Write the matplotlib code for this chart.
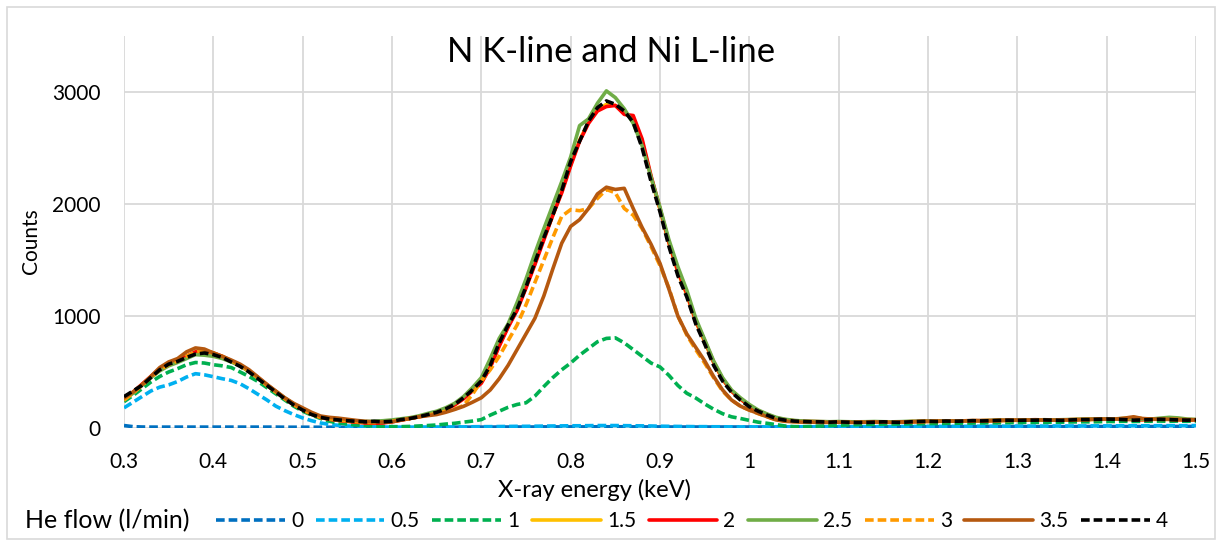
import numpy as np
import matplotlib
matplotlib.use("Agg")
import matplotlib.pyplot as plt
from matplotlib.patches import Rectangle

plt.rcParams['font.family'] = ['Lato', 'DejaVu Sans']

# energy channels, 10 eV apart
energy = np.round(np.arange(0.30, 1.5001, 0.01), 2)

flows = ["0", "0.5", "1", "1.5", "2", "2.5", "3", "3.5", "4"]

he_0 = [22, 12, 9, 8, 8, 8, 8, 8, 8, 8,
        8, 8, 8, 8, 8, 8, 8, 8, 7, 7,
        7, 7, 7, 7, 7, 7, 7, 7, 7, 7,
        7, 7, 7, 7, 8, 8, 8, 8, 8, 8,
        8, 8, 9, 9, 9, 9, 9, 10, 10, 10,
        10, 10, 10, 11, 11, 11, 11, 10, 10, 10,
        10, 9, 9, 9, 9, 9, 9, 9, 9, 9,
        9, 9, 9, 9, 9, 10, 10, 10, 10, 10,
        10, 10, 10, 10, 10, 10, 11, 11, 11, 11,
        11, 11, 11, 11, 11, 11, 12, 12, 12, 12,
        12, 12, 12, 12, 12, 12, 12, 13, 13, 13,
        13, 13, 13, 13, 13, 13, 13, 14, 14, 14,
        14]

he_05 = [180, 230, 280, 330, 365, 385, 415, 455, 485, 475,
         458, 440, 425, 395, 350, 300, 250, 195, 155, 120,
         90, 65, 45, 32, 24, 18, 14, 11, 10, 9,
         8, 8, 8, 8, 9, 9, 9, 10, 10, 11,
         12, 12, 13, 14, 15, 15, 16, 17, 18, 19,
         20, 20, 21, 22, 22, 22, 21, 20, 19, 18,
         16, 15, 14, 13, 12, 12, 11, 11, 10, 10,
         10, 10, 10, 11, 10, 11, 11, 11, 12, 11,
         12, 12, 12, 13, 12, 13, 13, 13, 14, 14,
         14, 14, 15, 15, 15, 15, 16, 16, 16, 16,
         17, 17, 17, 17, 18, 18, 18, 18, 19, 19,
         19, 19, 20, 20, 20, 20, 21, 21, 21, 21,
         22]

he_1 = [235, 290, 350, 410, 460, 500, 530, 565, 585, 580,
        565, 555, 540, 500, 460, 415, 360, 305, 250, 195,
        150, 115, 85, 60, 45, 35, 27, 22, 18, 14,
        12, 12, 14, 18, 22, 27, 35, 42, 52, 62,
        75, 115, 150, 185, 210, 225, 285, 370, 450, 520,
        580, 650, 710, 770, 800, 805, 760, 700, 640, 580,
        545, 470, 380, 310, 268, 215, 168, 128, 100, 85,
        68, 52, 42, 30, 18, 12, 12, 15, 18, 22,
        25, 28, 30, 32, 33, 35, 35, 36, 38, 38,
        40, 40, 42, 42, 44, 44, 45, 46, 46, 48,
        48, 50, 50, 50, 52, 52, 54, 55, 55, 56,
        58, 58, 60, 58, 60, 60, 62, 60, 62, 60,
        62]

he_15 = [255, 315, 385, 455, 525, 570, 600, 640, 675, 685,
         665, 635, 595, 555, 505, 445, 380, 320, 262, 208,
         163, 123, 94, 78, 68, 60, 54, 48, 46, 50,
         58, 72, 86, 100, 118, 138, 168, 208, 265, 335,
         410, 550, 740, 905, 1060, 1260, 1470, 1690, 1900, 2110,
         2350, 2570, 2730, 2840, 2890, 2880, 2810, 2760, 2560, 2240,
         1950, 1650, 1390, 1190, 950, 770, 585, 435, 330, 258,
         198, 152, 118, 88, 73, 64, 59, 57, 55, 54,
         54, 53, 52, 52, 54, 54, 53, 52, 55, 57,
         59, 60, 60, 62, 63, 64, 64, 65, 67, 68,
         69, 70, 72, 71, 70, 71, 73, 75, 76, 78,
         80, 79, 78, 75, 74, 77, 78, 77, 74, 72,
         73]

he_2 = [260, 320, 390, 460, 530, 575, 600, 640, 680, 690,
        670, 640, 600, 560, 510, 450, 385, 325, 265, 210,
        165, 125, 95, 78, 68, 60, 52, 45, 42, 45,
        55, 70, 85, 100, 115, 135, 165, 205, 260, 330,
        400, 540, 730, 900, 1050, 1250, 1460, 1680, 1900, 2100,
        2340, 2560, 2720, 2830, 2870, 2880, 2800, 2790, 2580, 2250,
        1960, 1660, 1400, 1200, 960, 780, 590, 440, 330, 260,
        200, 155, 120, 90, 75, 65, 60, 58, 56, 55,
        55, 54, 52, 53, 55, 55, 54, 52, 56, 58,
        60, 62, 60, 63, 64, 66, 65, 66, 68, 70,
        70, 72, 74, 72, 70, 72, 74, 76, 78, 80,
        82, 80, 78, 76, 74, 78, 80, 78, 75, 72,
        74]

he_25 = [250, 310, 380, 450, 510, 555, 585, 620, 655, 650,
         640, 620, 590, 555, 505, 445, 385, 325, 268, 215,
         170, 130, 100, 82, 72, 66, 62, 58, 60, 65,
         72, 82, 92, 108, 130, 150, 180, 220, 280, 360,
         450, 620, 800, 930, 1120, 1330, 1560, 1780, 1990, 2200,
         2420, 2700, 2760, 2900, 3010, 2950, 2850, 2720, 2520, 2240,
         1970, 1680, 1440, 1230, 980, 790, 600, 450, 340, 270,
         210, 160, 125, 95, 78, 68, 62, 60, 58, 56,
         58, 56, 55, 56, 58, 56, 55, 57, 60, 60,
         62, 60, 64, 62, 64, 66, 65, 68, 70, 68,
         70, 72, 70, 74, 72, 74, 76, 78, 80, 78,
         80, 82, 85, 80, 78, 80, 88, 95, 90, 80,
         76]

he_3 = [250, 310, 380, 450, 520, 565, 600, 640, 680, 695,
        670, 640, 600, 560, 510, 450, 385, 325, 265, 212,
        168, 128, 98, 82, 72, 64, 56, 50, 48, 52,
        60, 72, 85, 100, 115, 130, 150, 170, 200, 300,
        420, 520, 640, 780, 920, 1100, 1300, 1500, 1700, 1890,
        1950, 1940, 1960, 2050, 2130, 2100, 1960, 1900, 1780, 1620,
        1450, 1250, 1000, 830, 700, 580, 450, 330, 250, 195,
        160, 128, 100, 75, 62, 58, 55, 54, 52, 52,
        53, 52, 52, 53, 55, 54, 52, 54, 56, 58,
        60, 61, 62, 62, 64, 65, 66, 66, 68, 69,
        70, 71, 72, 72, 71, 72, 74, 75, 76, 78,
        79, 80, 85, 95, 84, 79, 78, 78, 76, 74,
        74]

he_35 = [268, 320, 385, 460, 540, 590, 620, 680, 715, 705,
         670, 640, 607, 570, 520, 455, 390, 330, 270, 220,
         180, 140, 107, 95, 88, 78, 68, 60, 55, 52,
         55, 70, 85, 100, 110, 120, 140, 165, 193, 230,
         270, 340, 440, 560, 700, 840, 980, 1180, 1420, 1650,
         1800, 1860, 1960, 2090, 2150, 2130, 2140, 1960, 1790, 1640,
         1470, 1240, 1000, 840, 720, 600, 460, 340, 250, 195,
         160, 130, 100, 72, 60, 55, 52, 52, 50, 50,
         52, 50, 50, 52, 54, 52, 50, 55, 56, 58,
         60, 60, 62, 62, 64, 64, 66, 66, 68, 68,
         70, 70, 72, 72, 70, 72, 74, 74, 76, 78,
         78, 80, 88, 100, 85, 80, 78, 78, 76, 74,
         74]

he_4 = [280, 330, 380, 450, 520, 570, 595, 630, 660, 670,
        655, 630, 590, 550, 500, 440, 380, 320, 260, 205,
        160, 120, 95, 80, 72, 65, 60, 55, 60, 55,
        60, 75, 85, 100, 120, 140, 170, 210, 270, 340,
        420, 560, 760, 920, 1060, 1260, 1480, 1700, 1900, 2120,
        2380, 2560, 2740, 2860, 2920, 2890, 2830, 2730, 2500, 2200,
        1930, 1620, 1360, 1170, 930, 750, 560, 420, 320, 250,
        190, 150, 115, 85, 70, 62, 58, 55, 55, 52,
        55, 52, 50, 50, 52, 55, 52, 50, 55, 58,
        60, 58, 62, 60, 62, 65, 63, 65, 68, 70,
        68, 70, 70, 72, 70, 68, 72, 75, 75, 78,
        80, 78, 75, 70, 72, 75, 78, 75, 72, 70,
        72]

series = [he_0, he_05, he_1, he_15, he_2, he_25, he_3, he_35, he_4]
colors = ["#0070C0", "#00B0F0", "#00B050", "#FFC000", "#FF0000",
          "#70AD47", "#FF9A00", "#B5580F", "#000000"]
dashed = [True, True, True, False, False, False, True, False, True]

W, H = 1223, 546
fig = plt.figure(figsize=(W / 100, H / 100), dpi=100)
ax = fig.add_axes([124 / W, 1 - 428 / H, (1196 - 124) / W, (428 - 36) / H])

for y, lab, c, d in zip(series, flows, colors, dashed):
    ls = (0, (2.4, 1.1)) if d else "-"
    ax.plot(energy, y, color=c, lw=2.6, ls=ls, label=lab,
            solid_capstyle="round", solid_joinstyle="round",
            dash_capstyle="butt", dash_joinstyle="round", zorder=3)

ax.set_xlim(0.3, 1.5)
ax.set_ylim(0, 3500)
ax.set_xticks(np.round(np.arange(0.3, 1.51, 0.1), 1))
ax.set_xticklabels(["0.3", "0.4", "0.5", "0.6", "0.7", "0.8", "0.9",
                    "1", "1.1", "1.2", "1.3", "1.4", "1.5"])
ax.set_yticks([0, 1000, 2000, 3000])
ax.grid(True, color="#D9D9D9", lw=1.3, zorder=0)
ax.set_axisbelow(True)
for s in ax.spines.values():
    s.set_visible(False)
ax.tick_params(length=0, labelsize=15, colors="black")
ax.tick_params(axis="x", pad=17)
ax.tick_params(axis="y", pad=17)

fig.text(611 / W, 1 - 52 / H, "N K-line and Ni L-line", ha="center", va="center",
         fontsize=25)
fig.text(595 / W, 1 - 490 / H, "X-ray energy (keV)", ha="center", va="center",
         fontsize=17)
fig.text(31 / W, 1 - 241 / H, "Counts", ha="center", va="center",
         rotation=90, fontsize=15)
fig.text(25 / W, 1 - 521 / H, "He flow (l/min)", ha="left", va="center",
         fontsize=18)

fig.legend(*ax.get_legend_handles_labels(), loc="center left",
           bbox_to_anchor=(216 / W, 1 - 521 / H), ncol=9, frameon=False,
           fontsize=15, handlelength=3.3, handletextpad=0.3,
           columnspacing=0.6, borderpad=0, borderaxespad=0)

fig.add_artist(Rectangle((7 / W, 7 / H), (1215 - 7) / W, (539 - 7) / H,
                         transform=fig.transFigure, fill=False,
                         edgecolor="#D9D9D9", lw=1.2))

fig.savefig("out.png", dpi=100)
